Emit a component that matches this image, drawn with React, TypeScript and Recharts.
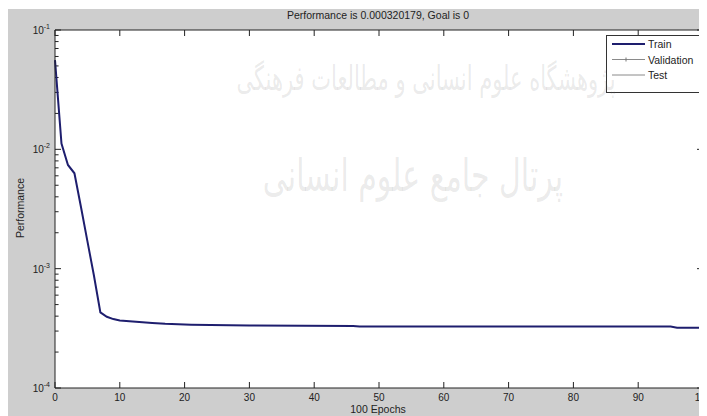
import { LineChart, Line, XAxis, YAxis, CartesianGrid, ReferenceLine } from 'recharts';

// epochs and training performance (MSE)
const epochs = [0, 1, 2, 3, 4, 5, 6, 7, 8, 9, 10, 12, 15, 17, 21, 30, 46, 47, 95, 96, 100];
const trainPerf = [
  0.056, 0.0112, 0.0074, 0.0063, 0.0033, 0.0017, 0.00088, 0.00043, 0.000395, 0.000378,
  0.000368, 0.00036, 0.00035, 0.000345, 0.000339, 0.000334, 0.000331, 0.000328, 0.000327,
  0.00032, 0.00032,
];

const xTicks = [0, 10, 20, 30, 40, 50, 60, 70, 80, 90, 100];
const yDecades = [1e-4, 1e-3, 1e-2, 1e-1];
const yMinorSteps = [2, 3, 4, 5, 6, 7, 8, 9];
const legendNames = ['Train', 'Validation', 'Test'];

const titleText = 'Performance is 0.000320179, Goal is 0';
const xLabel = '100 Epochs';
const yLabel = 'Performance';
const watermark1 = 'پژوهشگاه علوم انسانی و مطالعات فرهنگی';
const watermark2 = 'پرتال جامع علوم انسانی';

const data = epochs.map((e, i) => ({ epoch: e, train: trainPerf[i] }));
const yMinor = yDecades.slice(0, 3).flatMap((d) => yMinorSteps.map((m) => Number((m * d).toPrecision(3))));

const INK = '#222';
const NAVY = '#1e1e6e';
const FONT = '"Liberation Sans", Arial, sans-serif';
const MINOR_LEN = 0.55; // in epochs, ~3.5px

const LeftTick = ({ x, y, payload }: any) => {
  const exp = Math.round(Math.log10(payload.value));
  return (
    <g>
      <line x1={x} x2={x + 6} y1={y} y2={y} stroke={INK} />
      <text x={x - 5} y={y + 4} textAnchor="end" fontSize={10} fill={INK} fontFamily={FONT}>
        10
        <tspan dy={-5} fontSize={7}>
          {exp}
        </tspan>
      </text>
    </g>
  );
};

const RightTick = ({ x, y }: any) => <line x1={x} x2={x - 6} y1={y} y2={y} stroke={INK} />;

const BottomTick = ({ x, y, payload }: any) => (
  <g>
    <line x1={x} x2={x} y1={y} y2={y - 6} stroke={INK} />
    <text x={x} y={y + 13} textAnchor="middle" fontSize={10} fill={INK} fontFamily={FONT}>
      {payload.value}
    </text>
  </g>
);

const TopTick = ({ x, y }: any) => <line x1={x} x2={x} y1={y} y2={y + 6} stroke={INK} />;

function LegendBox() {
  return (
    <svg width={95} height={58} style={{ position: 'absolute', left: 598, top: 26 }}>
      <rect x={0.5} y={0.5} width={94} height={57} fill="#fff" stroke="#333" />
      {legendNames.map((name, i) => {
        const y = 9 + i * 15.5;
        const color = i === 0 ? NAVY : '#8a8a8a';
        return (
          <g key={name}>
            <line x1={6} x2={39} y1={y} y2={y} stroke={color} strokeWidth={i === 0 ? 2 : 1} />
            {i === 1 && <path d={`M20 ${y - 2}V${y + 2}`} stroke="#777" strokeWidth={1} />}
            <text x={42} y={y + 4} fontSize={10.5} fill={INK} fontFamily={FONT}>
              {name}
            </text>
          </g>
        );
      })}
    </svg>
  );
}

const labelStyle = {
  position: 'absolute' as const,
  fontSize: 10.5,
  color: INK,
  whiteSpace: 'nowrap' as const,
};

const wmStyle = {
  position: 'absolute' as const,
  fontFamily: '"DejaVu Sans", sans-serif',
  color: 'rgba(110,110,110,0.14)',
  whiteSpace: 'nowrap' as const,
  pointerEvents: 'none' as const,
};

export default function App() {
  return (
    <div
      style={{
        position: 'relative',
        width: 699,
        height: 407,
        marginTop: 1,
        overflow: 'hidden',
        background: '#cecece',
        fontFamily: FONT,
      }}
    >
      <style>{'html,body{overflow:hidden}'}</style>
      <LineChart width={740} height={407} data={data} margin={{ top: 20, right: 35, left: 7, bottom: 8 }}>
        <CartesianGrid xAxisId="b" yAxisId="l" fill="#fff" stroke="none" horizontal={false} vertical={false} />
        <XAxis
          xAxisId="b"
          dataKey="epoch"
          type="number"
          domain={[0, 100]}
          ticks={xTicks}
          interval={0}
          height={20}
          tickSize={0}
          tickMargin={0}
          tickLine={false}
          axisLine={{ stroke: INK }}
          tick={<BottomTick />}
        />
        <XAxis
          xAxisId="t"
          orientation="top"
          dataKey="epoch"
          type="number"
          domain={[0, 100]}
          ticks={xTicks}
          interval={0}
          height={1}
          tickSize={0}
          tickMargin={0}
          tickLine={false}
          axisLine={{ stroke: INK }}
          tick={<TopTick />}
        />
        <YAxis
          yAxisId="l"
          type="number"
          scale="log"
          domain={[1e-4, 1e-1]}
          allowDataOverflow
          ticks={yDecades}
          interval={0}
          width={40}
          tickSize={0}
          tickMargin={0}
          tickLine={false}
          axisLine={{ stroke: INK }}
          tick={<LeftTick />}
        />
        <YAxis
          yAxisId="r"
          orientation="right"
          type="number"
          scale="log"
          domain={[1e-4, 1e-1]}
          allowDataOverflow
          ticks={yDecades}
          interval={0}
          width={10}
          tickSize={0}
          tickMargin={0}
          tickLine={false}
          axisLine={{ stroke: INK }}
          tick={<RightTick />}
        />
        {/* minor log ticks, inward on both sides */}
        {yMinor.map((v) => (
          <ReferenceLine
            key={`ml-${v}`}
            xAxisId="b"
            yAxisId="l"
            segment={[
              { x: 0, y: v },
              { x: MINOR_LEN, y: v },
            ]}
            stroke={INK}
          />
        ))}
        {yMinor.map((v) => (
          <ReferenceLine
            key={`mr-${v}`}
            xAxisId="b"
            yAxisId="l"
            segment={[
              { x: 100 - MINOR_LEN, y: v },
              { x: 100, y: v },
            ]}
            stroke={INK}
          />
        ))}
        <Line
          xAxisId="b"
          yAxisId="l"
          type="linear"
          dataKey="train"
          stroke={NAVY}
          strokeWidth={2}
          dot={false}
          isAnimationActive={false}
        />
      </LineChart>

      <div style={{ ...labelStyle, left: 370, top: 6, transform: 'translate(-50%, -50%)' }}>{titleText}</div>
      <div style={{ ...labelStyle, left: 370, top: 400, transform: 'translate(-50%, -50%)' }}>{xLabel}</div>
      <div style={{ ...labelStyle, left: 12, top: 199, transform: 'translate(-50%, -50%) rotate(-90deg)' }}>
        {yLabel}
      </div>

      <LegendBox />

      <div dir="rtl" style={{ ...wmStyle, left: 418, top: 70, fontSize: 21, transform: 'translate(-50%, -50%) scaleY(1.6)' }}>
        {watermark1}
      </div>
      <div dir="rtl" style={{ ...wmStyle, left: 405, top: 166, fontSize: 30, transform: 'translate(-50%, -50%) scaleY(1.5)' }}>
        {watermark2}
      </div>
    </div>
  );
}
